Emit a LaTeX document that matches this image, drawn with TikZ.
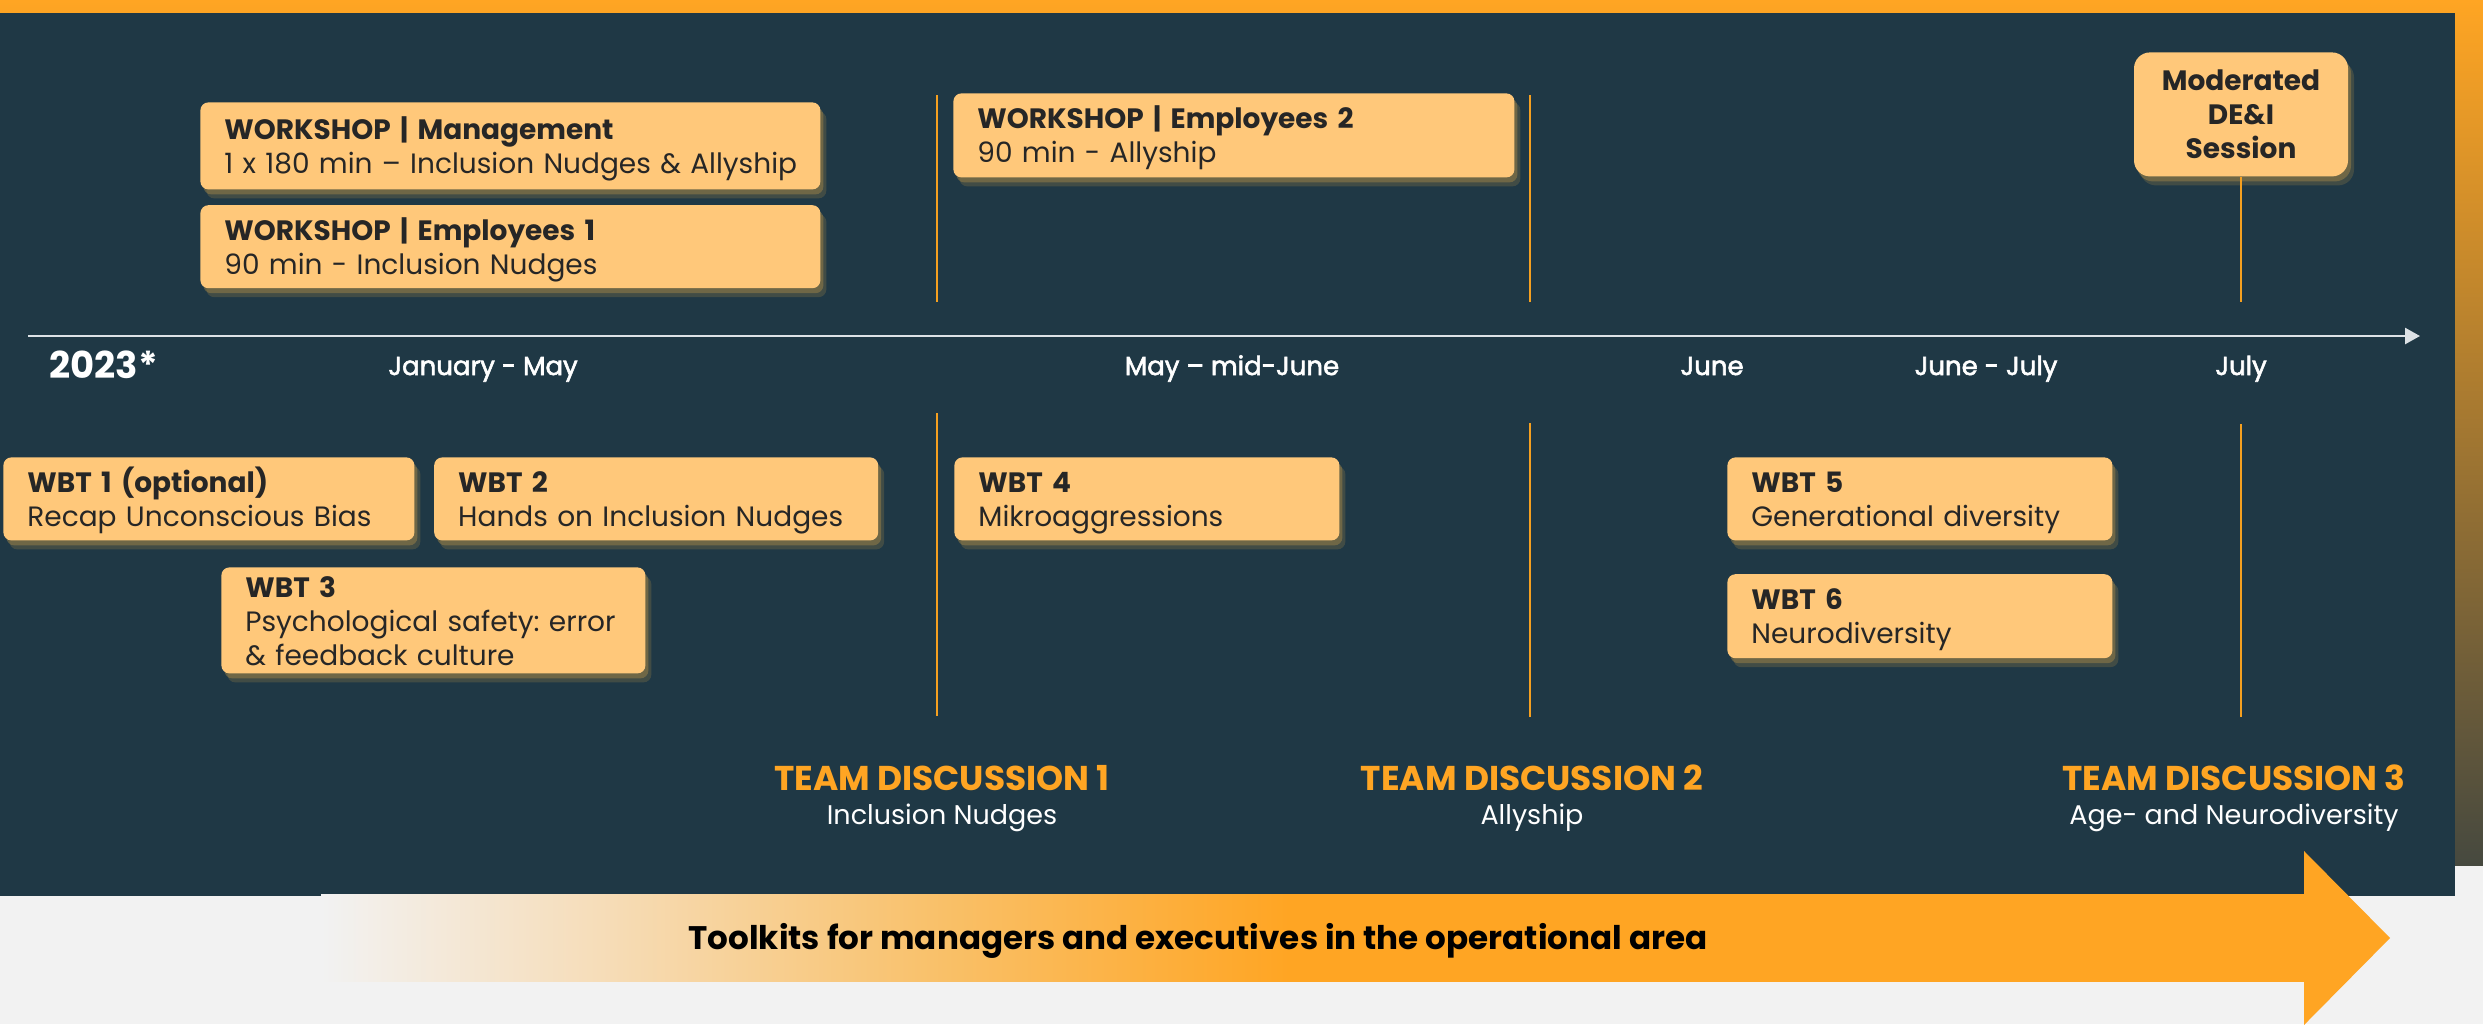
\documentclass[tikz,border=0pt]{standalone}
\usepackage{fontspec}
\setmainfont{Poppins}
\newfontfamily\mediumfont[FakeBold=2.2]{Poppins}
\usetikzlibrary{arrows.meta, positioning, shadows}
\frenchspacing

\definecolor{panelc}{HTML}{1F3845}
\definecolor{cardc}{HTML}{FFC87A}
\definecolor{orangec}{HTML}{FFA523}
\definecolor{tickc}{HTML}{F5A020}
\definecolor{inkc}{HTML}{262626}
\definecolor{axisc}{HTML}{DCE2E6}
\definecolor{bgc}{HTML}{F2F2F2}
\definecolor{glowc}{HTML}{A88A48}
\definecolor{peachc}{HTML}{F6DDB9}
\definecolor{midorc}{HTML}{F9C068}
\definecolor{edgec}{HTML}{46493F}

\newcommand{\cardpad}{12pt}
\newcommand{\cardfont}{\fontsize{14}{17}\selectfont}

\pgfdeclarehorizontalshading{toolfade}{100bp}{color(0bp)=(bgc); color(25bp)=(bgc);
  color(32bp)=(peachc); color(40.7bp)=(midorc); color(49.4bp)=(orangec); color(100bp)=(orangec)}

\tikzstyle{cardbase} = [% peach box look
  rectangle,
  rounded corners=4pt,
  inner xsep=\cardpad,
  inner ysep=0pt,
  font=\cardfont,
  text=inkc,
  fill=cardc,
  drop shadow={shadow xshift=3pt, shadow yshift=-4.5pt, fill=glowc, opacity=0.25},
  drop shadow={shadow xshift=1.5pt, shadow yshift=-2.5pt, fill=glowc, opacity=0.45}
  ]
\tikzstyle{card} = [% title + topic box
  cardbase,
  anchor=north west,
  align=left,
  text height=17.5pt,
  text depth=24pt
  ]
\tikzstyle{year} = [% year label
  anchor=base west,
  inner sep=0pt,
  font=\bfseries\fontsize{18.5}{22}\selectfont,
  text=white
  ]
\tikzstyle{month} = [% period label under the axis
  anchor=base,
  inner sep=0pt,
  font=\mediumfont\fontsize{13}{15}\selectfont,
  text=white
  ]
\tikzstyle{tdhead} = [% team discussion title
  anchor=base,
  inner sep=0pt,
  font=\bfseries\fontsize{17.2}{20}\selectfont,
  text=orangec
  ]
\tikzstyle{tdsub} = [% team discussion topic
  inner sep=0pt,
  font=\fontsize{13.5}{16}\selectfont,
  text=white
  ]
\tikzstyle{toolkit} = [% text on the big arrow
  anchor=base,
  inner sep=0pt,
  font=\bfseries\fontsize{16.3}{19}\selectfont,
  text=black
  ]
\tikzstyle{tick} = [% orange period marker
  draw=tickc,
  line width=1pt
  ]
\tikzstyle{timeline} = [% time axis
  draw=axisc,
  line width=1.3pt,
  -{Triangle[length=7.5pt, width=8pt]}
  ]

\begin{document}
\begin{tikzpicture}[x=0.5pt, y=-0.5pt]

%%% Background
\fill[bgc] (0,0) rectangle (2483,1024);
\useasboundingbox (0,0) rectangle (2483,1024);
\shade[top color=orangec, bottom color=edgec] (0,0) rectangle (2483,865);
\fill[panelc] (0,13) rectangle (2455,896);

%%% Toolkit arrow
\shade[shading=toolfade] (321,894) rectangle (2305,981);
\fill[orangec] (2304,851) -- (2390,938) -- (2304,1025) -- cycle;
\node[toolkit] (toolkit) at (1198,949) {Toolkits for managers and executives in the operational area};

%%% Time axis
\coordinate (axstart) at (28,336);
\coordinate (axend) at (2420,336);
\draw[timeline] (axstart) -- (axend);
\node[year] (year) at (49,378) {2023*};
\node[month] (jan) at (483,375) {January - May};
\node[month] (maymid) at (1232,375) {May – mid-June};
\node[month] (june) at (1712,375) {June};
\node[month] (junjul) at (1986,375) {June - July};
\node[month] (july) at (2241,375) {July};

%%% Period markers
\coordinate (m1a) at (937,95);
\coordinate (m1b) at (937,302);
\coordinate (m1c) at (937,413);
\coordinate (m1d) at (937,716);
\coordinate (m2a) at (1530,95);
\coordinate (m2b) at (1530,302);
\coordinate (m2c) at (1530,423);
\coordinate (m2d) at (1530,717);
\coordinate (m3b) at (2241,302);
\coordinate (m3c) at (2241,424);
\coordinate (m3d) at (2241,717);
\draw[tick] (m1a) -- (m1b);
\draw[tick] (m1c) -- (m1d);
\draw[tick] (m2a) -- (m2b);
\draw[tick] (m2c) -- (m2d);
\draw[tick] (m3c) -- (m3d);

%%% Workshops
\node[card, text width=286pt, minimum height=43.5pt] (wsmgmt) at (200,102)
  {\textbf{WORKSHOP | Management}\\\mbox{1 x 180 min – Inclusion Nudges \& Allyship}};
\node[card, text width=286pt, minimum height=41.5pt] (wsemp1) [below=7.5pt of wsmgmt]
  {\textbf{WORKSHOP | Employees 1}\\90 min - Inclusion Nudges};
\node[card, text width=256.5pt, minimum height=42pt] (wsemp2) at (953,93)
  {\textbf{WORKSHOP | Employees 2}\\90 min - Allyship};
\node[cardbase, anchor=north, align=center, text width=83pt, minimum height=62pt,
  rounded corners=8pt, font=\bfseries\cardfont] (dei) at (2241,52)
  {Moderated\\DE\&I\\Session};
\draw[tick] (dei) -- (m3b);

%%% Web based trainings
\node[card, text width=181.5pt, minimum height=41.5pt] (wbt1) at (3,457)
  {\textbf{WBT 1 (optional)}\\Recap Unconscious Bias};
\node[card, text width=198pt, minimum height=41.5pt] (wbt2) [right=9.5pt of wbt1]
  {\textbf{WBT 2}\\Hands on Inclusion Nudges};
\node[card, text width=188pt, minimum height=53pt, text height=15pt, text depth=38pt] (wbt3) at (221,567)
  {\textbf{WBT 3}\\Psychological safety: error\\\& feedback culture};
\node[card, text width=168.5pt, minimum height=41.5pt] (wbt4) at (954,457)
  {\textbf{WBT 4}\\Mikroaggressions};
\node[card, text width=168.5pt, minimum height=41.5pt] (wbt5) at (1727,457)
  {\textbf{WBT 5}\\Generational diversity};
\node[card, text width=168.5pt, minimum height=42pt] (wbt6) [below=16.5pt of wbt5]
  {\textbf{WBT 6}\\Neurodiversity};

%%% Team discussions
\node[tdhead] (td1) at (942,790) {TEAM DISCUSSION 1};
\node[tdsub, below=17.25pt of td1.base, anchor=base] (td1sub) {Inclusion Nudges};
\node[tdhead] (td2) at (1532,790) {TEAM DISCUSSION 2};
\node[tdsub, below=17.25pt of td2.base, anchor=base] (td2sub) {Allyship};
\node[tdhead] (td3) at (2234,790) {TEAM DISCUSSION 3};
\node[tdsub, below=17.25pt of td3.base, anchor=base] (td3sub) {Age- and Neurodiversity};

\end{tikzpicture}
\end{document}
